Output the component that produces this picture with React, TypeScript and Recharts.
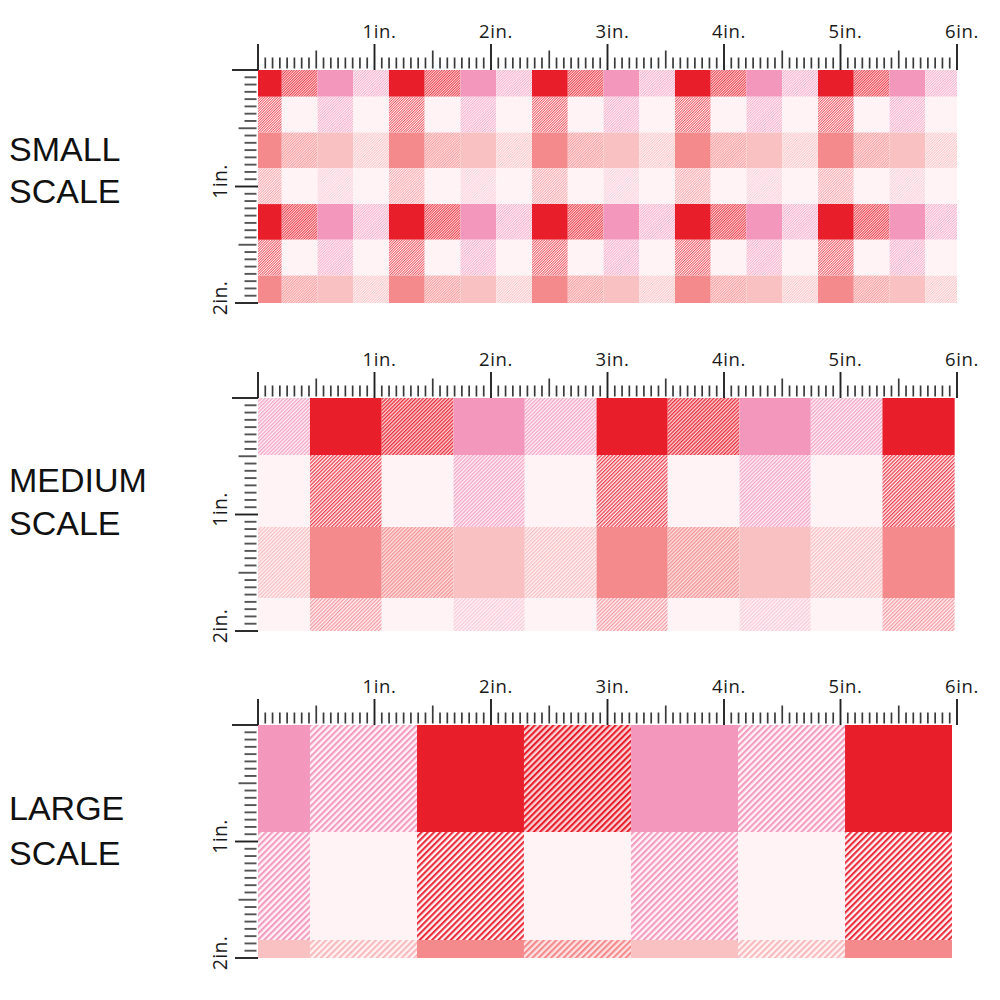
import React from "react";
import { ComposedChart, XAxis, YAxis, ReferenceArea, Line } from "recharts";

// ---------- data (inches) ----------
const INCH_LABELS = ["1in.", "2in.", "3in.", "4in.", "5in.", "6in."];
const SIDE_LABELS = ["1in.", "2in."];
const TICK_STEP = 1 / 16;
const X_TICKS = Array.from({ length: 6 * 16 + 1 }, (_, i) => i * TICK_STEP);
const Y_TICKS = Array.from({ length: 2 * 16 + 1 }, (_, i) => i * TICK_STEP);

const scaleTitles = [
  ["SMALL", "SCALE"],
  ["MEDIUM", "SCALE"],
  ["LARGE", "SCALE"],
];

// small scale
const smallColEdges = [0, 0.204, 0.511, 0.818, 1.124, 1.431, 1.738, 2.045, 2.352, 2.659, 2.966, 3.273, 3.579, 3.886, 4.193, 4.5, 4.807, 5.114, 5.421, 5.728, 6];
const smallColTypes = [0, 1, 2, 3, 0, 1, 2, 3, 0, 1, 2, 3, 0, 1, 2, 3, 0, 1, 2, 3];
const smallRowEdges = [0, 0.23, 0.537, 0.844, 1.151, 1.458, 1.765, 2];
const smallRowTypes = [0, 1, 2, 3, 0, 1, 2];

// medium scale
const mediumColEdges = [0, 0.446, 1.062, 1.678, 2.29, 2.906, 3.517, 4.133, 4.745, 5.36, 5.98];
const mediumColTypes = [3, 0, 1, 2, 3, 0, 1, 2, 3, 0];
const mediumRowEdges = [0, 0.489, 1.107, 1.717, 2];
const mediumRowTypes = [0, 1, 2, 3];

// large scale
const largeColEdges = [0, 0.446, 1.365, 2.283, 3.202, 4.12, 5.039, 5.957];
const largeColTypes = [2, 3, 0, 1, 2, 3, 0];
const largeRowEdges = [0, 0.918, 1.845, 2];
const largeRowTypes = [0, 1, 2];

const domainPoints = [
  { x: 0, y: 0 },
  { x: 6, y: 2 },
];

// ---------- styles ----------
const RED = "#E81E2B";
const PINK = "#F397BD";
const SALMON = "#F48A8C";
const LSALMON = "#F9C1C2";
const WHITE = "#FFF3F5";

const SOLIDS: Record<string, string> = { red: RED, pink: PINK, salmon: SALMON, lsalmon: LSALMON, white: WHITE };
const HATCHES: Record<string, { base: string; line: string }> = {
  redHatchDense: { base: "#FBD3D7", line: RED },
  redHatch: { base: WHITE, line: "#EA2E3C" },
  pinkHatch: { base: WHITE, line: "#F49CC0" },
  salmonHatch: { base: "#FDE3E3", line: SALMON },
  lsalmonHatch: { base: WHITE, line: "#F8BABC" },
  redHatchLight: { base: WHITE, line: "#F5939A" },
  pinkHatchLight: { base: WHITE, line: "#F8C7D9" },
};
const CELL_GRID = [
  ["red", "redHatchDense", "pink", "pinkHatch"],
  ["redHatch", "white", "pinkHatch", "white"],
  ["salmon", "salmonHatch", "lsalmon", "lsalmonHatch"],
  ["redHatchLight", "white", "pinkHatchLight", "white"],
];
const PATTERN_SIZES: Record<string, { p: number; sw: number; op: number }> = {
  s: { p: 1.8, sw: 0.9, op: 0.8 },
  m: { p: 2.6, sw: 1.3, op: 0.9 },
  l: { p: 4.4, sw: 2.1, op: 1 },
};

const PANELS = [
  { key: "s", top: 0, colEdges: smallColEdges, colTypes: smallColTypes, rowEdges: smallRowEdges, rowTypes: smallRowTypes, titleY: [161, 203] },
  { key: "m", top: 328, colEdges: mediumColEdges, colTypes: mediumColTypes, rowEdges: mediumRowEdges, rowTypes: mediumRowTypes, titleY: [492, 535] },
  { key: "l", top: 655, colEdges: largeColEdges, colTypes: largeColTypes, rowEdges: largeRowEdges, rowTypes: largeRowTypes, titleY: [820, 865] },
];

const LABEL_FONT = "'Open Sans', 'Noto Sans', sans-serif";

function fillFor(scaleKey: string, name: string) {
  if (SOLIDS[name]) return SOLIDS[name];
  return `url(#${scaleKey}-${name})`;
}

function TopTick(props: any) {
  const { x, y, payload } = props;
  const idx = Math.round(payload.value * 16);
  const isInch = idx % 16 === 0;
  const isHalf = idx % 8 === 0;
  const len = isInch ? 26 : isHalf ? 18 : 11;
  const bottom = isInch ? y : y - 1.5;
  const label = isInch && idx > 0 ? INCH_LABELS[idx / 16 - 1] : null;
  return (
    <g>
      <line x1={x} x2={x} y1={bottom} y2={bottom - len} stroke={isInch ? "#222" : "#3a3a3a"} strokeWidth={isInch ? 1.9 : 1.7} />
      {label && (
        <text x={x + 5} y={y - 32} textAnchor="middle" fontFamily={LABEL_FONT} fontSize={18.5} letterSpacing={0.6} fill="#1a1a1a">
          {label}
        </text>
      )}
    </g>
  );
}

function SideTick(props: any) {
  const { x, y, payload } = props;
  const idx = Math.round(payload.value * 16);
  const isInch = idx % 16 === 0;
  const isHalf = idx % 8 === 0;
  const len = isInch ? (idx === 0 ? 26 : 23) : isHalf ? 18 : 12;
  const right = isInch ? x : x - 1.5;
  const label = isInch && idx > 0 ? SIDE_LABELS[idx / 16 - 1] : null;
  return (
    <g>
      <line x1={right} x2={right - len} y1={y} y2={y} stroke={isInch ? "#222" : "#555"} strokeWidth={1.9} />
      {label && (
        <text
          transform={`translate(${x - 31}, ${y - 5}) rotate(-90)`}
          textAnchor="middle"
          fontFamily={LABEL_FONT}
          fontSize={19.5}
          letterSpacing={0.3}
          fill="#1a1a1a"
        >
          {label}
        </text>
      )}
    </g>
  );
}

function Panel({ panel }: { panel: (typeof PANELS)[number] }) {
  const cells: React.ReactNode[] = [];
  panel.rowTypes.forEach((rt, ri) => {
    panel.colTypes.forEach((ct, ci) => {
      cells.push(
        <ReferenceArea
          key={`${ri}-${ci}`}
          x1={panel.colEdges[ci]}
          x2={panel.colEdges[ci + 1]}
          y1={panel.rowEdges[ri]}
          y2={panel.rowEdges[ri + 1]}
          fill={fillFor(panel.key, CELL_GRID[rt][ct])}
          fillOpacity={1}
          stroke="none"
          ifOverflow="visible"
        />
      );
    });
  });
  return (
    <div style={{ position: "absolute", left: 0, top: panel.top, width: 1000, height: 330 }}>
      <ComposedChart width={1000} height={330} data={domainPoints} margin={{ top: 10, right: 43, bottom: 27, left: 0 }}>
        <XAxis
          xAxisId={0}
          dataKey="x"
          type="number"
          orientation="top"
          domain={[0, 6]}
          ticks={X_TICKS}
          interval={0}
          height={60}
          tickSize={0}
          tickMargin={0}
          axisLine={false}
          tickLine={false}
          tick={(p: any) => <TopTick {...p} />}
        />
        <YAxis
          yAxisId={0}
          type="number"
          domain={[0, 2]}
          reversed
          ticks={Y_TICKS}
          interval={0}
          width={258}
          tickSize={0}
          tickMargin={0}
          axisLine={false}
          tickLine={false}
          tick={(p: any) => <SideTick {...p} />}
        />
        {cells}
        <Line dataKey="y" stroke="none" dot={false} activeDot={false} isAnimationActive={false} legendType="none" />
      </ComposedChart>
    </div>
  );
}

export default function App() {
  return (
    <div style={{ position: "absolute", left: 0, top: 0, width: 1000, height: 1000, background: "#fff", overflow: "hidden" }}>
      <svg width={1000} height={1000} style={{ position: "absolute", left: 0, top: 0 }}>
        <defs>
          {Object.keys(PATTERN_SIZES).map((sk) =>
            Object.keys(HATCHES).map((hk) => {
              const { p, sw, op } = PATTERN_SIZES[sk];
              const h = HATCHES[hk];
              return (
                <pattern
                  key={`${sk}-${hk}`}
                  id={`${sk}-${hk}`}
                  width={p}
                  height={p}
                  patternUnits="userSpaceOnUse"
                  patternTransform="rotate(45)"
                >
                  <rect x={0} y={0} width={p} height={p} fill={h.base} />
                  <rect x={0} y={0} width={sw} height={p} fill={h.line} fillOpacity={op} />
                </pattern>
              );
            })
          )}
        </defs>
        {PANELS.map((panel, i) =>
          scaleTitles[i].map((t, j) => (
            <text
              key={`${i}-${j}`}
              x={9}
              y={panel.titleY[j]}
              fontFamily="'Liberation Sans', Arial, sans-serif"
              fontSize={34}
              fill="#111"
            >
              {t}
            </text>
          ))
        )}
      </svg>
      {PANELS.map((panel) => (
        <Panel key={panel.key} panel={panel} />
      ))}
    </div>
  );
}
